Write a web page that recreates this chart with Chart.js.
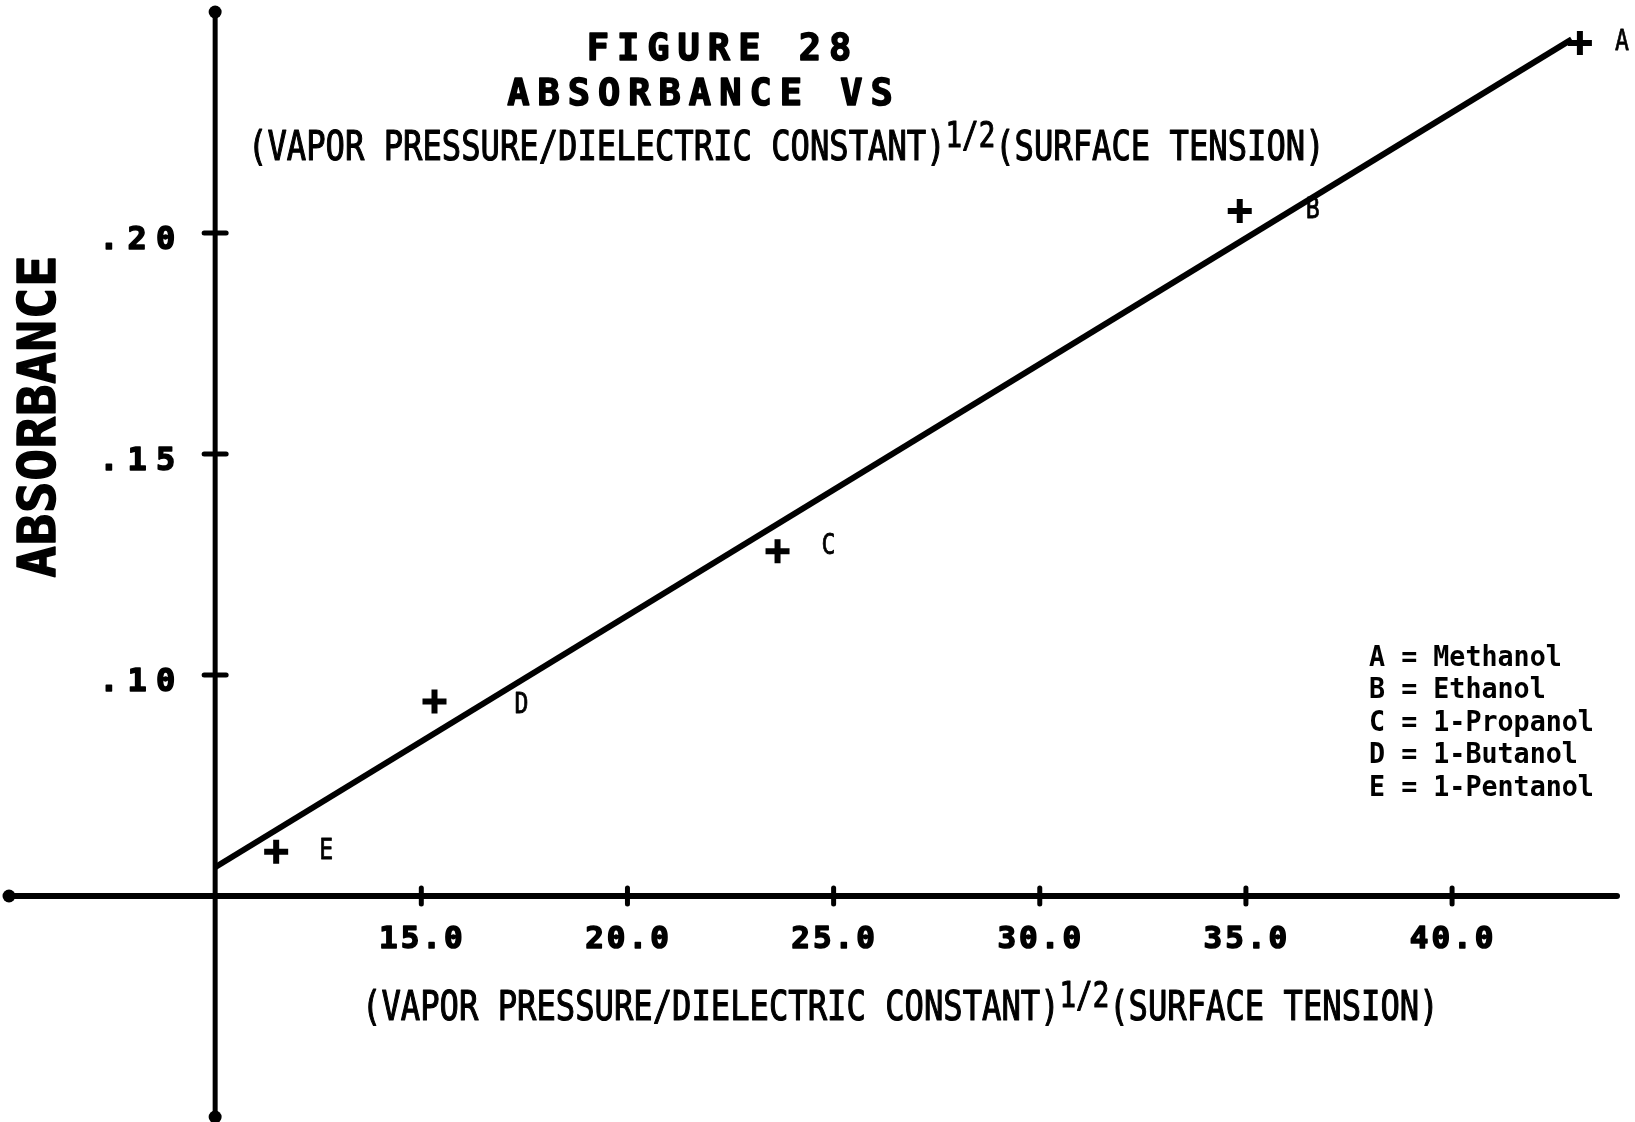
<!DOCTYPE html>
<html>
<head>
<meta charset="utf-8">
<title>Figure 28</title>
<script src="https://cdn.jsdelivr.net/npm/chart.js@4.4.1/dist/chart.umd.min.js"></script>
<style>
  html, body { margin: 0; padding: 0; background: #fff; }
  #wrap { width: 1635px; height: 1122px; position: relative; }
</style>
</head>
<body>
<div id="wrap"><canvas id="chart"></canvas></div>
<script>
// Values
const compounds = ['A', 'B', 'C', 'D', 'E'];
const compoundNames = ['Methanol', 'Ethanol', '1-Propanol', '1-Butanol', '1-Pentanol'];
const xValues = [43.1, 34.85, 23.64, 15.32, 11.48];
const absorbance = [0.243, 0.205, 0.128, 0.094, 0.060];

// End points of the fitted line
const fitX = [10.0, 42.9];
const fitY = [0.0565, 0.2438];

// Axes
const xTickValues = [15, 20, 25, 30, 35, 40];
const xTickLabels = ['15.0', '20.0', '25.0', '30.0', '35.0', '40.0'];
const yTickValues = [0.10, 0.15, 0.20];
const yTickLabels = ['.10', '.15', '.20'];
const xRange = [5, 44];
const yRange = [0, 0.25];
const axisCross = [10, 0.05];

const MONO = '"DejaVu Sans Mono", "Liberation Mono", monospace';

// Draw one piece of text, optionally squeezed sideways, thickened or rotated
function drawText(ctx, text, x, y, opts) {
  ctx.save();
  ctx.font = opts.font;
  ctx.letterSpacing = opts.spacing || '0px';
  ctx.textAlign = opts.align || 'left';
  ctx.textBaseline = 'middle';
  ctx.fillStyle = '#000';
  ctx.strokeStyle = '#000';
  ctx.lineJoin = 'round';
  ctx.translate(x, y);
  if (opts.rotate) ctx.rotate(opts.rotate);
  ctx.scale(opts.squeeze || 1, 1);
  ctx.fillText(text, 0, 0);
  if (opts.stroke) {
    ctx.lineWidth = opts.stroke;
    ctx.strokeText(text, 0, 0);
  }
  ctx.restore();
}

function textWidth(ctx, text, font, squeeze) {
  ctx.save();
  ctx.font = font;
  const w = ctx.measureText(text).width;
  ctx.restore();
  return w * squeeze;
}

// "(VAPOR PRESSURE/DIELECTRIC CONSTANT)^1/2(SURFACE TENSION)"
function drawQuantity(ctx, x, y) {
  const main = '41px ' + MONO;
  const sup = '35px ' + MONO;
  const sq = 0.785;
  const p1 = '(VAPOR PRESSURE/DIELECTRIC CONSTANT)';
  const p2 = '1/2';
  const p3 = '(SURFACE TENSION)';
  drawText(ctx, p1, x, y, { font: main, squeeze: sq, stroke: 1.2 });
  x += textWidth(ctx, p1, main, sq);
  drawText(ctx, p2, x, y - 11, { font: sup, squeeze: sq, stroke: 1.2 });
  x += textWidth(ctx, p2, sup, sq);
  drawText(ctx, p3, x, y, { font: main, squeeze: sq, stroke: 1.2 });
}

const axesPlugin = {
  id: 'crossAxes',
  beforeDatasetsDraw(chart) {
    const ctx = chart.ctx;
    const xs = chart.scales.x, ys = chart.scales.y;
    const ox = xs.getPixelForValue(axisCross[0]);
    const oy = ys.getPixelForValue(axisCross[1]);
    const left = xs.getPixelForValue(xRange[0]);
    const right = xs.getPixelForValue(xRange[1]);
    const top = ys.getPixelForValue(yRange[1]);
    const bottom = ys.getPixelForValue(yRange[0]);

    ctx.save();
    ctx.strokeStyle = '#000';
    ctx.fillStyle = '#000';
    ctx.lineCap = 'round';

    ctx.lineWidth = 6;
    ctx.beginPath();
    ctx.moveTo(left, oy);
    ctx.lineTo(right, oy);
    ctx.stroke();

    ctx.lineWidth = 5;
    ctx.beginPath();
    ctx.moveTo(ox, top);
    ctx.lineTo(ox, bottom);
    ctx.stroke();

    // end dots
    [[left, oy], [ox, top], [ox, bottom]].forEach(([px, py]) => {
      ctx.beginPath();
      ctx.arc(px, py, 6.5, 0, Math.PI * 2);
      ctx.fill();
    });

    // tick marks
    ctx.lineWidth = 5;
    xTickValues.forEach(v => {
      const px = xs.getPixelForValue(v);
      ctx.beginPath();
      ctx.moveTo(px, oy - 8);
      ctx.lineTo(px, oy + 8);
      ctx.stroke();
    });
    yTickValues.forEach(v => {
      const py = ys.getPixelForValue(v);
      ctx.beginPath();
      ctx.moveTo(ox - 11, py);
      ctx.lineTo(ox + 11, py);
      ctx.stroke();
    });
    ctx.restore();

    // tick labels
    xTickValues.forEach((v, i) => {
      drawText(ctx, xTickLabels[i], xs.getPixelForValue(v) + 1, oy + 44,
        { font: 'bold 31px ' + MONO, spacing: '3px', align: 'center', stroke: 1.5 });
    });
    yTickValues.forEach((v, i) => {
      drawText(ctx, yTickLabels[i], ox - 31, ys.getPixelForValue(v) + 8,
        { font: 'bold 32px ' + MONO, spacing: '9px', align: 'right', stroke: 1.5 });
    });
  },
  afterDraw(chart) {
    const ctx = chart.ctx;
    const xs = chart.scales.x, ys = chart.scales.y;

    // titles
    drawText(ctx, 'FIGURE 28', 723, 50,
      { font: 'bold 37px ' + MONO, spacing: '8px', align: 'center', stroke: 1.5 });
    drawText(ctx, 'ABSORBANCE VS', 704, 95,
      { font: 'bold 37px ' + MONO, spacing: '8px', align: 'center', stroke: 1.5 });
    drawQuantity(ctx, 248, 149);

    // axis titles
    drawQuantity(ctx, 362, 1009);
    drawText(ctx, 'ABSORBANCE', 41, 416,
      { font: 'bold 52px ' + MONO, spacing: '1px', align: 'center', rotate: -Math.PI / 2, stroke: 1.5 });

    // point letters
    const offsets = [[42, 0], [73, 0], [51, -5], [87, 4], [50, 0]];
    compounds.forEach((c, i) => {
      const px = xs.getPixelForValue(xValues[i]) + offsets[i][0];
      const py = ys.getPixelForValue(absorbance[i]) + offsets[i][1];
      drawText(ctx, c, px, py, { font: '29px ' + MONO, squeeze: 0.8, align: 'center', stroke: 0.8 });
    });

    // key
    compounds.forEach((c, i) => {
      drawText(ctx, c + ' = ' + compoundNames[i], 1369, 658 + i * 32.5,
        { font: 'bold 29px ' + MONO, squeeze: 0.92 });
    });
  }
};

new Chart(document.getElementById('chart'), {
  type: 'scatter',
  data: {
    datasets: [
      {
        label: 'Absorbance',
        data: xValues.map((v, i) => ({ x: v, y: absorbance[i] })),
        pointStyle: 'cross',
        pointRadius: 12,
        pointBorderWidth: 6,
        borderColor: '#000',
        backgroundColor: '#000'
      },
      {
        label: 'Fit',
        data: fitX.map((v, i) => ({ x: v, y: fitY[i] })),
        showLine: true,
        borderColor: '#000',
        borderWidth: 6,
        pointRadius: 0
      }
    ]
  },
  options: {
    responsive: true,
    maintainAspectRatio: false,
    animation: false,
    layout: { autoPadding: false, padding: { left: 9, top: 12, right: 18, bottom: 5 } },
    plugins: {
      legend: { display: false },
      tooltip: { enabled: false }
    },
    scales: {
      x: { type: 'linear', min: xRange[0], max: xRange[1], display: false },
      y: { type: 'linear', min: yRange[0], max: yRange[1], display: false }
    }
  },
  plugins: [axesPlugin]
});
</script>
</body>
</html>
